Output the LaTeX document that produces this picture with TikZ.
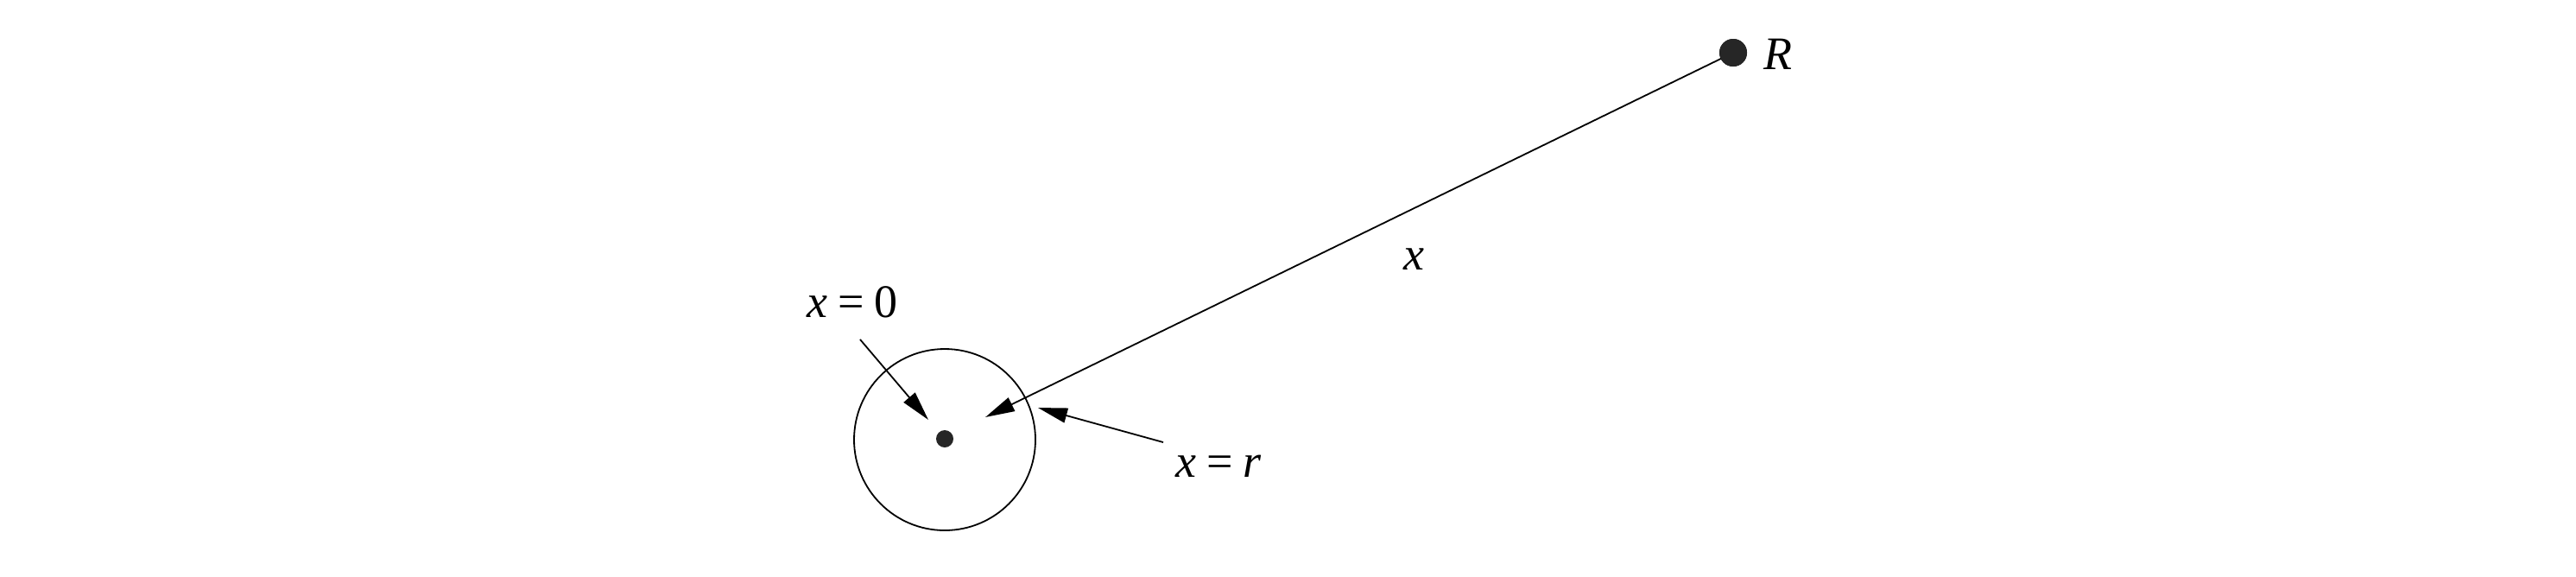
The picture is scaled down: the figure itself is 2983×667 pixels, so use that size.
\documentclass[tikz,border=0pt]{standalone}
\usepackage{fontspec}
\setmainfont{Liberation Serif}
\usetikzlibrary{arrows.meta}
\tikzset{
  lbl/.style={inner sep=0pt, font=\fontsize{13.5}{16}\selectfont},
  conn/.style={draw, line width=0.45pt, -{Triangle[length=8.5pt,width=4.3pt]}},
  bigdot/.style={circle, fill=black!85, inner sep=0pt, minimum size=8pt},
  smalldot/.style={circle, fill=black!85, inner sep=0pt, minimum size=5pt}
}
\newcommand{\eqsp}{\hspace{0.22em}}
\begin{document}
\begin{tikzpicture}[x=0.25pt,y=-0.25pt]
\useasboundingbox (0,0) rectangle (2983,667);
% sphere
\node[circle, draw, line width=0.45pt, minimum size=52.5pt, inner sep=0pt] (sph) at (1094,509) {};
\node[smalldot] (ctr) at (1094,508) {};
% far point R
\node[bigdot] (R) at (2007,61) {};
\node[lbl, anchor=west] (Rl) at (2042,63) {\textit{R}};
% coordinates for arrow tips / tails
\coordinate (tipx) at (1141,483);
\coordinate (t0s) at (996,393);
\coordinate (t0e) at (1075,486);
\coordinate (trs) at (1347,512);
\coordinate (tre) at (1202,472);
% labels
\node[lbl] (xl) at (1637,300) {\textit{x}};
\node[lbl] (x0) at (987,350) {\textit{x}\eqsp=\eqsp0};
\node[lbl] (xr) at (1411,540) {\textit{x}\eqsp=\eqsp\textit{r}};
% connectors
\draw[conn] (R.center) -- (tipx);
\draw[conn] (t0s) -- (t0e);
\draw[conn] (trs) -- (tre);
\node[bigdot] at (R) {};
\end{tikzpicture}
\end{document}
